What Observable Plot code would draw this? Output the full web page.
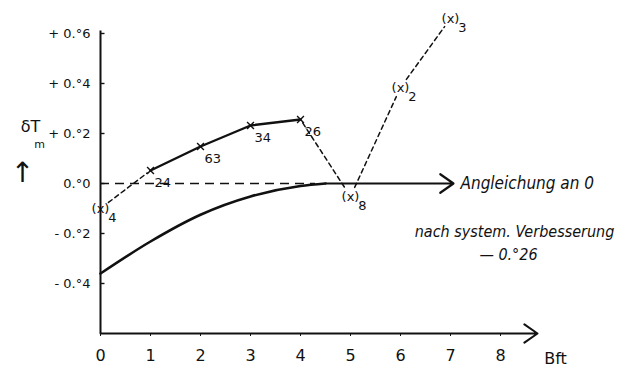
<!DOCTYPE html>
<html><head><meta charset="utf-8">
<script src="https://cdn.jsdelivr.net/npm/d3@7"></script>
<script src="https://cdn.jsdelivr.net/npm/@observablehq/plot@0.6"></script>
<style>body{margin:0;background:#fff}</style>
</head><body><div id="chart"></div>
<script>
// Wind force (Beaufort) and mean temperature deviation
const bft = [0, 1, 2, 3, 4, 5, 6, 7];
const dTm = [-0.10, 0.052, 0.148, 0.232, 0.256, -0.052, 0.384, 0.66];
const counts = ["4", "24", "63", "34", "26", "8", "2", "3"];
const uncertain = [true, false, false, false, false, true, true, true];

// smoothed curve "Angleichung an 0"
const curveBft = [0, 1, 2, 3, 4, 4.5];
const curveDT = [-0.36, -0.232, -0.125, -0.052, -0.01, 0];
const plateauEnd = 7.06;

const xTicks = [0, 1, 2, 3, 4, 5, 6, 7, 8];
const yTicks = [-0.4, -0.2, 0, 0.2, 0.4, 0.6];
const yTickLabels = ["- 0.°4", "- 0.°2", "0.°0", "+ 0.°2", "+ 0.°4", "+ 0.°6"];
const xAxisEnd = 8.74;
const yBase = -0.6, yTop = 0.61;
const zeroLineEnd = 4.3;

const pts = bft.map((x, i) => ({x, y: dTm[i], n: counts[i], u: uncertain[i]}));
const solid = pts.filter((d, i) => i >= 1 && i <= 4);
const pairs = [[0, 1], [4, 5], [5, 6], [6, 7]];
const curve = curveBft.map((x, i) => ({x, y: curveDT[i]}));
const last = curve[curve.length - 1];

const font = "DejaVu Sans";
const cond = "DejaVu Sans Condensed, DejaVu Sans";

const dashed = pairs.map(([a, b]) => Plot.arrow([{x1: pts[a].x, y1: pts[a].y, x2: pts[b].x, y2: pts[b].y}], {
  x1: "x1", y1: "y1", x2: "x2", y2: "y2", headLength: 0, bend: 0,
  insetStart: pts[a].u ? 10 : 4, insetEnd: pts[b].u ? 10 : 4,
  strokeWidth: 1.5, strokeDasharray: "4.5,3.5", stroke: "#111"
}));

const chart = Plot.plot({
  width: 627, height: 369,
  marginLeft: 100, marginRight: 127, marginTop: 33, marginBottom: 36,
  x: {domain: [0, 8]},
  y: {domain: [-0.6, 0.6]},
  style: {fontFamily: font, background: "#fff", color: "#111", overflow: "visible"},
  marks: [
    Plot.axisX(xTicks, {tickSize: 3, tickPadding: 13, fontSize: 16, label: null}),
    Plot.axisY(yTicks, {tickSize: 0, tickPadding: 10, fontSize: 13, label: null,
      tickFormat: d => yTickLabels[yTicks.indexOf(d)]}),
    Plot.ruleY(yTicks, {x1: 0, x2: 0.09, strokeWidth: 1.4}),
    Plot.ruleX([0], {y1: yBase, y2: yTop, strokeWidth: 2}),
    Plot.arrow([{x1: 0, x2: xAxisEnd, y: yBase}], {x1: "x1", x2: "x2", y1: "y", y2: "y",
      headLength: 12, headAngle: 70, strokeWidth: 2, bend: 0}),
    Plot.ruleY([0], {x1: 0, x2: zeroLineEnd, strokeDasharray: "9,6", strokeWidth: 1.3}),
    Plot.line(curve, {x: "x", y: "y", curve: "monotone-x", strokeWidth: 2.6}),
    Plot.arrow([{x1: last.x, x2: plateauEnd, y: last.y}], {x1: "x1", x2: "x2", y1: "y", y2: "y",
      headLength: 11, headAngle: 70, strokeWidth: 2.2, bend: 0}),
    Plot.line(solid, {x: "x", y: "y", strokeWidth: 2.4}),
    ...dashed,
    Plot.dot(pts.filter(d => !d.u), {x: "x", y: "y", symbol: "times", r: 3.2, strokeWidth: 1.4}),
    Plot.text(pts.filter(d => !d.u), {x: "x", y: "y", text: "n", dx: 4, dy: 12, fontSize: 13, textAnchor: "start"}),
    Plot.text(pts.filter(d => d.u), {x: "x", y: "y", text: () => "(x)", fontSize: 13}),
    Plot.text(pts.filter(d => d.u), {x: "x", y: "y", text: "n", dx: 12, dy: 9, fontSize: 13}),
    Plot.text(["Angleichung an 0"], {x: plateauEnd, y: 0, text: d => d, dx: 7, textAnchor: "start",
      fontSize: 17, fontStyle: "italic", fontFamily: cond}),
    Plot.text(["nach system. Verbesserung"], {frameAnchor: "left", text: d => d, dx: 414, dy: 48,
      textAnchor: "middle", fontSize: 16, fontStyle: "italic", fontFamily: cond}),
    Plot.text(["— 0.°26"], {frameAnchor: "left", text: d => d, dx: 408, dy: 71,
      textAnchor: "middle", fontSize: 16, fontStyle: "italic", fontFamily: cond}),
    Plot.text(["Bft"], {frameAnchor: "bottom-right", text: d => d, dx: 55, dy: 25, lineAnchor: "middle",
      textAnchor: "middle", fontSize: 16}),
    Plot.text(["δT"], {frameAnchor: "left", text: d => d, dx: -70, dy: -57, fontSize: 16, textAnchor: "middle"}),
    Plot.text(["m"], {frameAnchor: "left", text: d => d, dx: -61, dy: -39, fontSize: 11, textAnchor: "middle"}),
    Plot.text(["↑"], {frameAnchor: "left", text: d => d, dx: -78, dy: -10, fontSize: 28, textAnchor: "middle"})
  ]
});
document.getElementById("chart").appendChild(chart);
</script>
</body></html>
